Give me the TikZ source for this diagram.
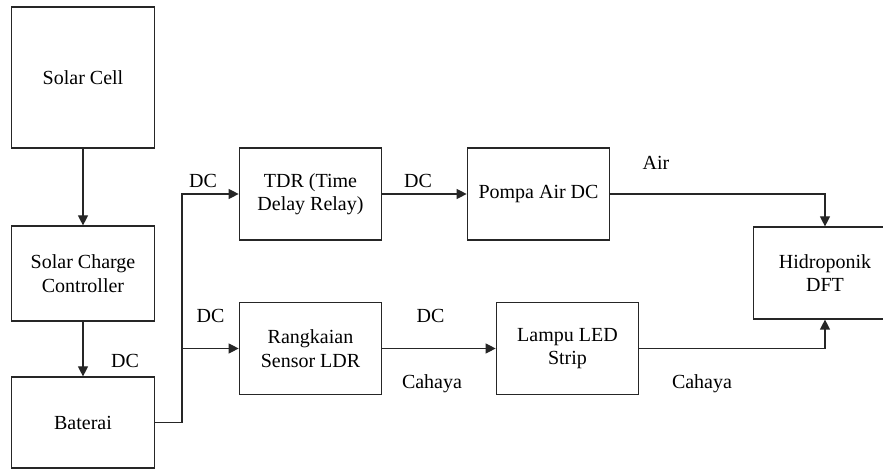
\documentclass[tikz,border=0pt]{standalone}
\usepackage{fontspec}
\setmainfont{Liberation Serif}
\usetikzlibrary{arrows.meta,positioning}

\begin{document}
\begin{tikzpicture}[x=0.6pt, y=-0.6pt, font=\rmfamily\fontsize{12}{14}\selectfont,
    blok/.style={draw=black!85, line width=0.7pt, minimum width=85.5pt, align=center, inner sep=2pt},
    panah/.style={draw=black!85, line width=0.7pt, -{Triangle[length=6pt, width=6pt]}},
    lbl/.style={anchor=base, inner sep=0pt}]
    % Frame (the Hidroponik box runs past the right edge)
    \useasboundingbox (0,0) rectangle (883,469);
    \clip (0,0) rectangle (883,469);

    % Left column: solar supply
    \node[blok, minimum height=84.6pt] (solar) at (83,77.5) {Solar Cell};
    \node[blok, minimum height=57pt] (scc) at (83,273.5) {Solar Charge\\Controller};
    \node[blok, minimum height=54.6pt] (bat) at (83,422.5) {Baterai};

    % Upper row: pump branch
    \node[blok, minimum height=55.2pt] (tdr) at (310.5,194) {TDR (Time\\Delay Relay)};
    \node[blok, minimum height=55.2pt] (pompa) at (538.5,194) {Pompa Air DC};

    % Lower row: light branch
    \node[blok, minimum height=55.2pt] (ldr) at (310.5,348.5) {Rangkaian\\Sensor LDR};
    \node[blok, minimum height=55.2pt] (lampu) at (567.5,348.5) {Lampu LED\\Strip};

    % Target
    \node[blok, minimum height=55.2pt] (hidro) at (825,273) {Hidroponik\\DFT};

    % Connectors
    \coordinate (cabang) at (182,0);
    \draw[panah] (solar) -- (scc);
    \draw[panah] (scc) -- (bat);
    \draw[panah] (bat.east) -- (bat.east -| cabang) |- (tdr.west);
    \draw[panah] (ldr.west -| cabang) -- (ldr.west);
    \draw[panah] (tdr) -- (pompa);
    \draw[panah] (ldr) -- (lampu);
    \draw[panah] (pompa.east) -| (hidro.north);
    \draw[panah] (lampu.east) -| (hidro.south);

    % Labels
    \node[lbl] (dc1) at (125,368) {DC};
    \node[lbl] (dc2) at (203,188) {DC};
    \node[lbl] (dc3) at (210.5,323) {DC};
    \node[lbl] (dc4) at (418,188) {DC};
    \node[lbl] (dc5) at (430.5,323) {DC};
    \node[lbl] (cahaya1) at (432,389) {Cahaya};
    \node[lbl] (air) at (656,169.5) {Air};
    \node[lbl] (cahaya2) at (702,389) {Cahaya};
\end{tikzpicture}
\end{document}
